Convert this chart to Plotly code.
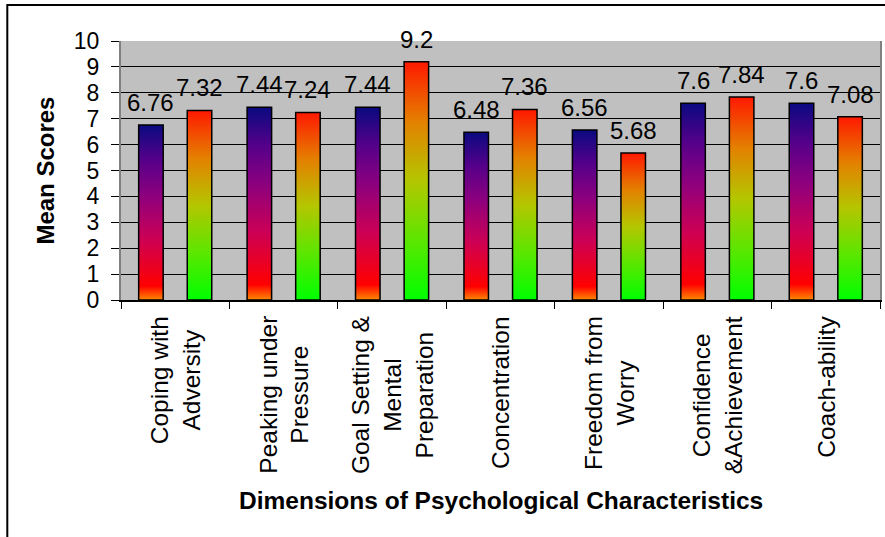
import plotly.graph_objects as go

# Psychological skill dimensions and the mean scores of the two groups
categories = [
    "Coping with<br>Adversity",
    "Peaking under<br>Pressure",
    "Goal Setting &<br>Mental<br>Preparation",
    "Concentration",
    "Freedom from<br>Worry",
    "Confidence<br>&Achievement",
    "Coach-ability",
]
group_a_scores = [6.76, 7.44, 7.44, 6.48, 6.56, 7.6, 7.6]
group_b_scores = [7.32, 7.24, 9.2, 7.36, 5.68, 7.84, 7.08]
y_tick_values = list(range(0, 11))

# vertical gradient fills, bottom -> top
scale_a = [[0.0, "#FF8A00"], [0.08, "#FF0000"], [0.35, "#CC0055"],
           [0.6, "#8C007E"], [0.8, "#55008A"], [1.0, "#0A0A80"]]
scale_b = [[0.0, "#00FF00"], [0.25, "#5CE600"], [0.5, "#B4C600"],
           [0.75, "#E48000"], [1.0, "#FF1800"]]

FONT = "Arial, Liberation Sans, sans-serif"
BAR_HALF = 0.113
OFFSET = 0.224

fig = go.Figure()


def add_bar(xc, value, scale):
    xs = [xc - BAR_HALF, xc + BAR_HALF, xc + BAR_HALF, xc - BAR_HALF, xc - BAR_HALF]
    ys = [0, 0, value, value, 0]
    fig.add_trace(go.Scatter(
        x=xs, y=ys, mode="lines", fill="toself",
        fillgradient=dict(type="vertical", colorscale=scale, start=0, stop=value),
        line=dict(color="black", width=1.5),
        hoverinfo="skip", showlegend=False,
    ))
    fig.add_annotation(
        x=xc, y=value, xref="x", yref="y", text=f"{value:g}",
        showarrow=False, yanchor="bottom", yshift=7,
        font=dict(family=FONT, size=24, color="black"),
    )


for i, (a, b) in enumerate(zip(group_a_scores, group_b_scores)):
    add_bar(i - OFFSET, a, scale_a)
    add_bar(i + OFFSET, b, scale_b)

# rotated category labels under each group
for i, label in enumerate(categories):
    fig.add_annotation(
        x=i, y=0, xref="x", yref="paper", text=label, textangle=-90,
        showarrow=False, yanchor="top", xanchor="center", yshift=-14,
        align="center", font=dict(family=FONT, size=24.5, color="black"),
    )

# axis titles
fig.add_annotation(
    x=-0.1, y=0.5, xref="paper", yref="paper", text="<b>Mean Scores</b>",
    textangle=-90, showarrow=False, xanchor="center", yanchor="middle",
    font=dict(family=FONT, size=24, color="black"),
)
fig.add_annotation(
    x=0.5, y=-0.775, xref="paper", yref="paper",
    text="<b>Dimensions of Psychological Characteristics</b>",
    showarrow=False, xanchor="center", yanchor="middle",
    font=dict(family=FONT, size=24.5, color="black"),
)

# outer chart frame
fig.add_shape(type="rect", xref="paper", yref="paper",
              x0=-0.1498, x1=1.2, y0=-1.5, y1=1.139,
              line=dict(color="black", width=2), fillcolor="rgba(0,0,0,0)")

n = len(categories)
fig.update_xaxes(
    range=[-0.5, n - 0.5], showgrid=False, zeroline=False,
    showticklabels=False, ticks="",
    showline=True, linecolor="black", linewidth=1.5,
    minor=dict(tickmode="array", tickvals=[k - 0.5 for k in range(n + 1)],
               ticks="outside", ticklen=7, tickcolor="black", tickwidth=1,
               showgrid=False),
)
fig.update_yaxes(
    range=[0, 10], tickmode="array", tickvals=y_tick_values,
    ticks="outside", ticklen=8, tickcolor="black", tickwidth=1,
    ticklabelstandoff=7,
    showgrid=True, gridcolor="black", gridwidth=1, zeroline=False,
    showline=True, linecolor="#808080", linewidth=2, mirror=True,
    tickfont=dict(family=FONT, size=23, color="black"),
)
fig.update_layout(
    width=885, height=537,
    margin=dict(l=121, r=3, t=41, b=237),
    plot_bgcolor="#C0C0C0", paper_bgcolor="white",
    showlegend=False,
)

fig.write_html("out.html")
